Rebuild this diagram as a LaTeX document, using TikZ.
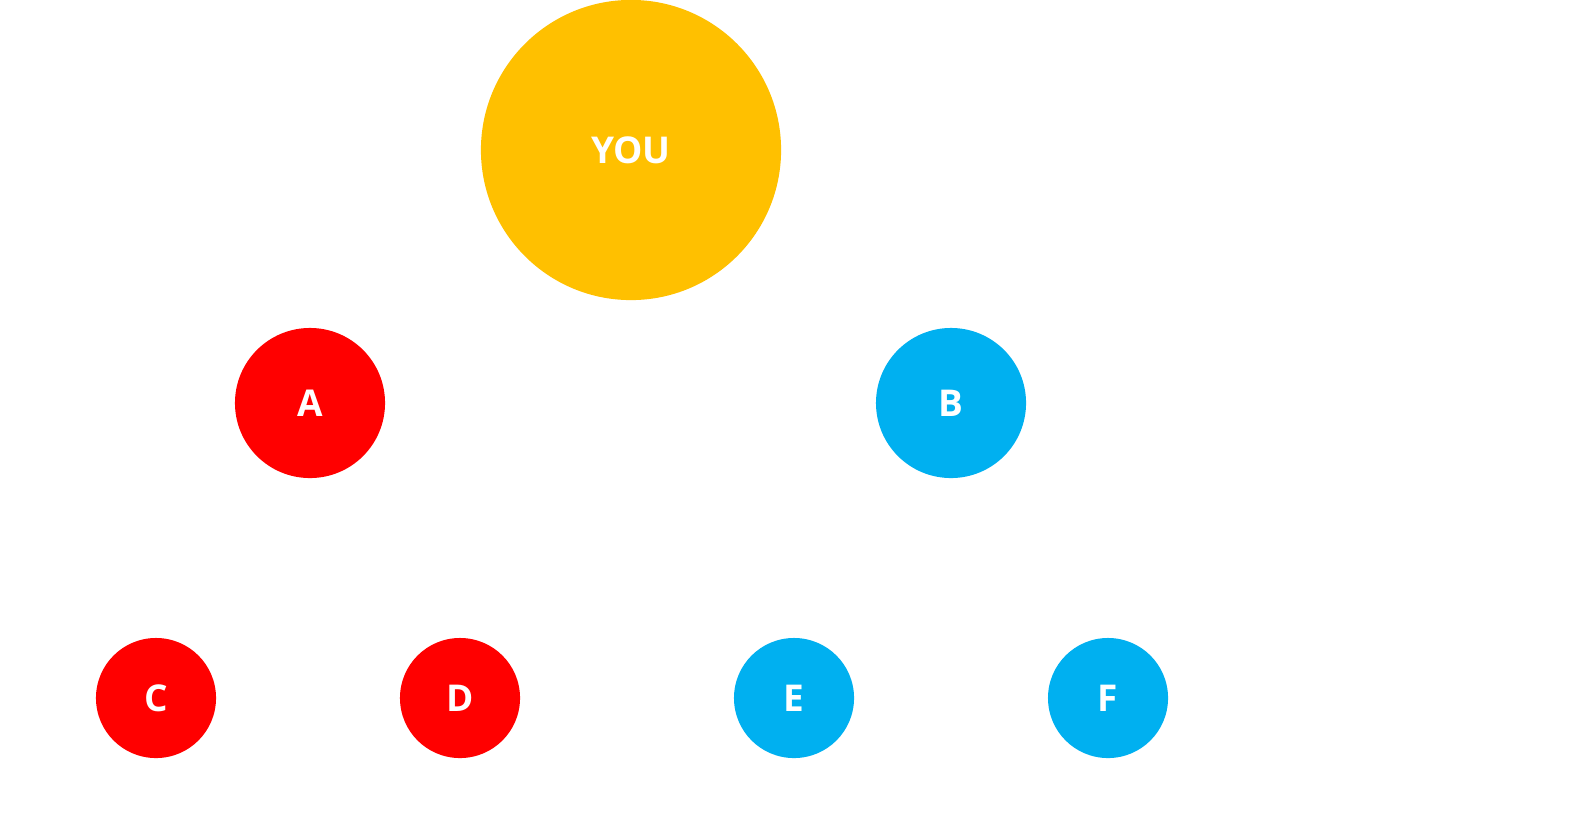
\documentclass[tikz,border=0pt]{standalone}
\usepackage{fontspec}
\setmainfont{Open Sans}
\usepackage{tikz}
\usetikzlibrary{positioning}
\definecolor{cyou}{RGB}{255,192,0}
\definecolor{cred}{RGB}{255,0,0}
\definecolor{cblue}{RGB}{0,176,240}
\tikzset{
  member/.style={circle,draw=none,text=white,inner sep=0pt,
    font=\fontsize{10.5}{12}\selectfont\bfseries},
  root/.style={member,fill=cyou,minimum size=3.0cm},
  mid/.style={member,minimum size=1.5cm},
  leaf/.style={member,minimum size=1.2cm},
  redside/.style={fill=cred},
  blueside/.style={fill=cblue}
}
\begin{document}
\begin{tikzpicture}[x=0.01cm,y=-0.01cm]
  \useasboundingbox (0,0) rectangle (1571,830);
  \node[root] (you) at (631,150) {YOU};
  \node[mid,redside]  (a) at (310,403) {A};
  \node[mid,blueside] (b) at (951,403) {B};
  \foreach \n/\xpos/\side in {C/156/redside, D/460/redside, E/794/blueside, F/1108/blueside} {
    \node[leaf,\side] (\n) at (\xpos,698) {\n};
  }
\end{tikzpicture}
\end{document}
